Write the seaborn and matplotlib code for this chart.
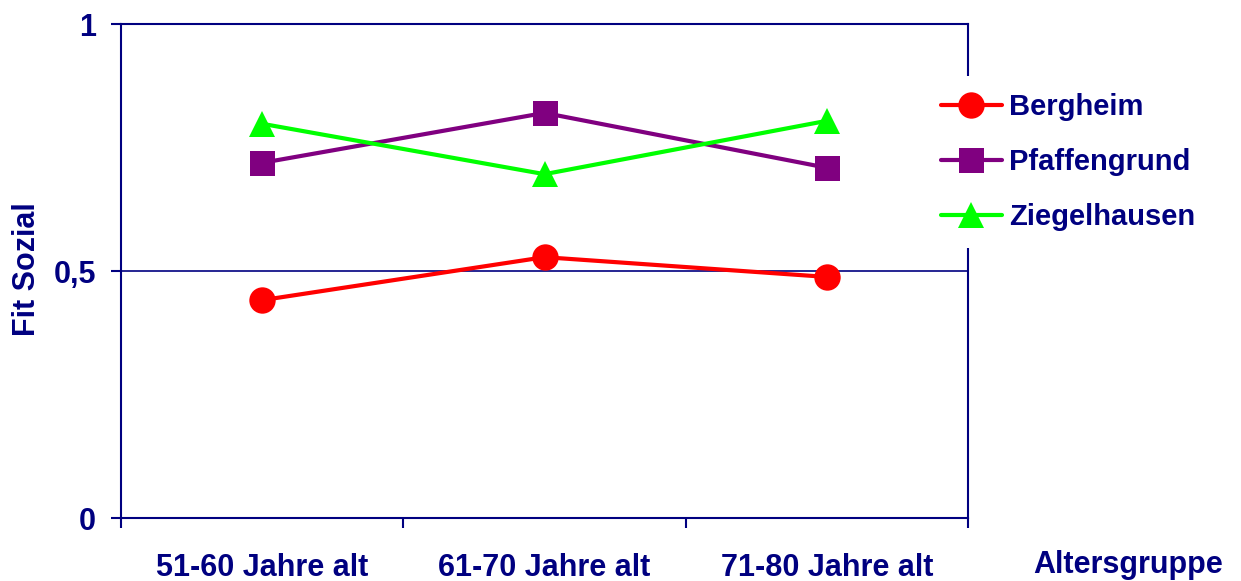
import matplotlib
matplotlib.use("Agg")
import matplotlib.pyplot as plt
import seaborn as sns
import pandas as pd
from matplotlib.ticker import FixedLocator

categories = ["51-60 Jahre alt", "61-70 Jahre alt", "71-80 Jahre alt"]
series_names = ["Bergheim", "Pfaffengrund", "Ziegelhausen"]
bergheim = [0.441, 0.528, 0.488]
pfaffengrund = [0.719, 0.820, 0.709]
ziegelhausen = [0.798, 0.696, 0.804]
y_ticks = [0, 0.5, 1]
y_tick_labels = ["0", "0,5", "1"]

colors = {"Bergheim": "#FF0000", "Pfaffengrund": "#800080", "Ziegelhausen": "#00FF00"}
markers = {"Bergheim": "o", "Pfaffengrund": "s", "Ziegelhausen": "^"}
navy = "#000080"

rows = []
for name, vals in zip(series_names, [bergheim, pfaffengrund, ziegelhausen]):
    for c, v in zip(categories, vals):
        rows.append({"Altersgruppe": c, "Fit Sozial": v, "Ort": name})
df = pd.DataFrame(rows)

sns.set_style("white")
plt.rcParams["font.family"] = ["Liberation Sans", "DejaVu Sans"]
plt.rcParams["font.weight"] = "bold"

fig = plt.figure(figsize=(12.41, 5.81), dpi=100)
ax = fig.add_axes([121/1241, 1-518/581, (968-121)/1241, (518-24)/581])

sns.lineplot(data=df, x="Altersgruppe", y="Fit Sozial", hue="Ort", style="Ort",
             hue_order=series_names, style_order=series_names,
             palette=colors, markers=markers, dashes=False, sort=False,
             linewidth=3, markersize=19, markeredgewidth=0, legend=False, ax=ax,
             zorder=3)
for ln, name in zip(ax.lines, series_names):
    if name == "Pfaffengrund":
        ln.set_markersize(18)

ax.set_xlim(-0.5, 2.5)
ax.set_ylim(0, 1)
ax.set_yticks(y_ticks)
ax.set_yticklabels(y_tick_labels)
ax.xaxis.set_minor_locator(FixedLocator([-0.5, 0.5, 1.5, 2.5]))
ax.tick_params(axis="x", which="major", length=0, pad=25, labelsize=22, labelcolor=navy)
ax.tick_params(axis="x", which="minor", length=7, width=1.5, color=navy, direction="out", bottom=True)
ax.tick_params(axis="y", which="major", length=7, width=1.5, color=navy, direction="out",
               pad=11, labelsize=22, labelcolor=navy, left=True)
for lab in ax.get_xticklabels() + ax.get_yticklabels():
    lab.set_fontweight("bold")

for side in ["left", "bottom", "right", "top"]:
    ax.spines[side].set_color(navy)
    ax.spines[side].set_linewidth(1.5)
ax.axhline(0.5, color=navy, linewidth=1.2, zorder=1)

ax.set_xlabel("Altersgruppe", fontsize=22, fontweight="bold", color=navy)
ax.xaxis.set_label_coords(1.189, -0.095)
ax.xaxis.label.set_va("center")
ax.set_ylabel("Fit Sozial", fontsize=22, fontweight="bold", color=navy)
ax.yaxis.set_label_coords(-0.111, 0.504)
ax.yaxis.label.set_va("center")

leg = ax.legend(ax.lines[:3], series_names, loc="center left",
                bbox_to_anchor=(923/1241, 1-162/581), bbox_transform=fig.transFigure,
                frameon=True, facecolor="white", edgecolor="none", framealpha=1,
                fontsize=21, handlelength=2.1, handletextpad=0.25, labelspacing=0.92,
                borderpad=0.6, borderaxespad=0)
leg.set_zorder(10)
for t in leg.get_texts():
    t.set_color(navy)
    t.set_fontweight("bold")

fig.savefig("out.png", dpi=100, facecolor="white")
